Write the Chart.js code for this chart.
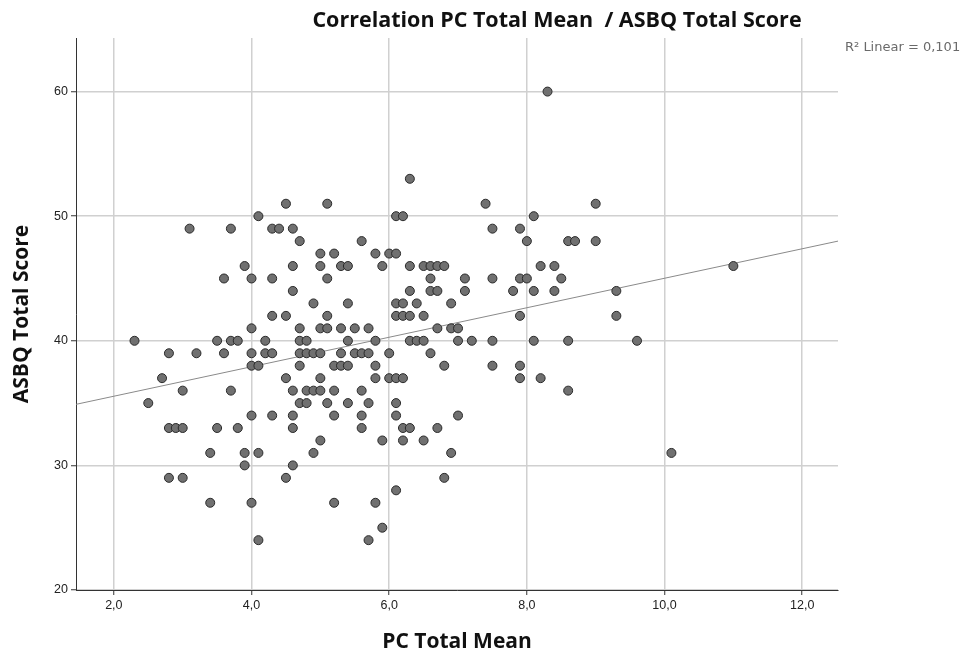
<!DOCTYPE html>
<html>
<head>
<meta charset="utf-8">
<script src="https://cdn.jsdelivr.net/npm/chart.js@4.4.1/dist/chart.umd.min.js"></script>
<style>
    html, body { margin: 0; padding: 0; background: #ffffff; }
    #wrap { width: 973px; height: 655px; position: relative; }
</style>
</head>
<body>
<div id="wrap"><canvas id="myChart"></canvas></div>
<script>
// ค่า PC Total Mean (แกน x) กับ ASBQ Total Score (แกน y) ของแต่ละคน
const pcMean = [
    8.3,
    6.3,
    4.5, 5.1, 7.4, 9.0,
    4.1, 6.1, 6.2, 8.1,
    3.1, 3.7, 4.3, 4.4, 4.6, 7.5, 7.9,
    4.7, 5.6, 8.0, 8.6, 8.7, 9.0,
    5.0, 5.2, 5.8, 6.0, 6.1,
    3.9, 4.6, 5.0, 5.3, 5.4, 5.9, 6.3, 6.5, 6.6, 6.7, 6.8, 8.2, 8.4, 11.0,
    3.6, 4.0, 4.3, 5.1, 6.6, 7.1, 7.5, 7.9, 8.0, 8.5,
    4.6, 6.3, 6.6, 6.7, 7.1, 7.8, 8.1, 8.4, 9.3,
    4.9, 5.4, 6.1, 6.2, 6.4, 6.9,
    4.3, 4.5, 5.1, 6.1, 6.2, 6.3, 6.5, 7.9, 9.3,
    4.0, 4.7, 5.0, 5.1, 5.3, 5.5, 5.7, 6.7, 6.9, 7.0,
    2.3, 3.5, 3.7, 3.8, 4.2, 4.7, 4.8, 5.4, 5.8, 6.3, 6.4, 6.5, 7.0, 7.2, 7.5, 8.1, 8.6, 9.6,
    2.8, 3.2, 3.6, 4.0, 4.2, 4.3, 4.7, 4.8, 4.9, 5.0, 5.3, 5.5, 5.6, 5.7, 6.0, 6.6,
    4.0, 4.1, 4.7, 5.2, 5.3, 5.4, 5.8, 6.8, 7.5, 7.9,
    2.7, 4.5, 5.0, 5.8, 6.0, 6.1, 6.2, 7.9, 8.2,
    3.0, 3.7, 4.6, 4.8, 4.9, 5.0, 5.2, 5.6, 8.6,
    2.5, 4.7, 4.8, 5.1, 5.4, 5.7, 6.1,
    4.0, 4.3, 4.6, 5.2, 5.6, 6.1, 7.0,
    2.8, 2.9, 3.0, 3.5, 3.8, 4.6, 5.6, 6.2, 6.3, 6.7,
    5.0, 5.9, 6.2, 6.5,
    3.4, 3.9, 4.1, 4.9, 6.9, 10.1,
    3.9, 4.6,
    2.8, 3.0, 4.5, 6.8,
    6.1,
    3.4, 4.0, 5.2, 5.8,
    5.9,
    4.1, 5.7
];
const asbqScore = [
    60,
    53,
    51, 51, 51, 51,
    50, 50, 50, 50,
    49, 49, 49, 49, 49, 49, 49,
    48, 48, 48, 48, 48, 48,
    47, 47, 47, 47, 47,
    46, 46, 46, 46, 46, 46, 46, 46, 46, 46, 46, 46, 46, 46,
    45, 45, 45, 45, 45, 45, 45, 45, 45, 45,
    44, 44, 44, 44, 44, 44, 44, 44, 44,
    43, 43, 43, 43, 43, 43,
    42, 42, 42, 42, 42, 42, 42, 42, 42,
    41, 41, 41, 41, 41, 41, 41, 41, 41, 41,
    40, 40, 40, 40, 40, 40, 40, 40, 40, 40, 40, 40, 40, 40, 40, 40, 40, 40,
    39, 39, 39, 39, 39, 39, 39, 39, 39, 39, 39, 39, 39, 39, 39, 39,
    38, 38, 38, 38, 38, 38, 38, 38, 38, 38,
    37, 37, 37, 37, 37, 37, 37, 37, 37,
    36, 36, 36, 36, 36, 36, 36, 36, 36,
    35, 35, 35, 35, 35, 35, 35,
    34, 34, 34, 34, 34, 34, 34,
    33, 33, 33, 33, 33, 33, 33, 33, 33, 33,
    32, 32, 32, 32,
    31, 31, 31, 31, 31, 31,
    30, 30,
    29, 29, 29, 29,
    28,
    27, 27, 27, 27,
    25,
    24, 24
];

// เส้น fit linear อ่านจากภาพ (ปลายซ้าย / ปลายขวา)
const fitX = [1.45, 12.52];
const fitY = [34.9, 48.0];

// ช่วงแกนและ tick
const xMin = 1.45, xMax = 12.52, xStep = 2;
const yMin = 20, yMax = 64.3, yStep = 10;

const chartTitle = "Correlation PC Total Mean  / ASBQ Total Score";
const xTitle = "PC Total Mean";
const yTitle = "ASBQ Total Score";
const fitLabel = "R\u00B2 Linear = 0,101";

let points = [];
for (let i = 0; i < pcMean.length; i++) {
    points.push({ x: pcMean[i], y: asbqScore[i] });
}
let fitPoints = [];
for (let i = 0; i < fitX.length; i++) {
    fitPoints.push({ x: fitX[i], y: fitY[i] });
}

// วาดหัวเรื่องกับข้อความ R² เอง เพราะตำแหน่งไม่ได้อยู่กลางกราฟ
const textPlugin = {
    id: "textPlugin",
    afterDraw(chart) {
        const ctx = chart.ctx;
        ctx.save();
        ctx.fillStyle = "#111111";
        ctx.font = "bold 21.5px 'Open Sans'";
        ctx.textAlign = "center";
        ctx.textBaseline = "middle";
        ctx.fillText(chartTitle, 557, 21);
        ctx.fillStyle = "#6a6a6a";
        ctx.font = "13px 'DejaVu Sans'";
        ctx.textAlign = "left";
        ctx.fillText(fitLabel, 845, 48);
        ctx.restore();
    }
};

const ctx = document.getElementById("myChart");
new Chart(ctx, {
    type: "scatter",
    data: {
        datasets: [{
            label: "ASBQ",
            data: points,
            backgroundColor: "#707070",
            borderColor: "#2a2a2a",
            borderWidth: 1,
            pointRadius: 4.5,
        },
        {
            label: "Fit",
            type: "line",
            data: fitPoints,
            borderColor: "#8a8a8a",
            borderWidth: 1,
            pointRadius: 0,
            fill: false,
        }]
    },
    options: {
        responsive: true,
        maintainAspectRatio: false,
        devicePixelRatio: 1,
        animation: false,
        layout: {
            padding: { left: 0, right: 135, top: 38, bottom: 0 }
        },
        scales: {
            x: {
                type: "linear",
                min: xMin,
                max: xMax,
                afterFit: function (scale) { scale.height = 65; },
                ticks: {
                    stepSize: xStep,
                    includeBounds: false,
                    color: "#222222",
                    padding: 3,
                    font: { family: "'Liberation Sans'", size: 12.5 },
                    callback: function (v) { return v.toFixed(1).replace(".", ","); }
                },
                grid: {
                    color: "#d0d0d0",
                    lineWidth: 1.5,
                    tickColor: "#333333",
                    tickLength: 5,
                    tickWidth: 1
                },
                border: { color: "#333333", width: 1 },
                title: {
                    display: true,
                    text: xTitle,
                    color: "#111111",
                    padding: { top: 0, bottom: 0 },
                    font: { family: "'Open Sans'", size: 21, weight: "bold" }
                }
            },
            y: {
                type: "linear",
                min: yMin,
                max: yMax,
                afterFit: function (scale) { scale.width = 76; },
                ticks: {
                    stepSize: yStep,
                    includeBounds: false,
                    color: "#222222",
                    padding: 3,
                    font: { family: "'Liberation Sans'", size: 12.5 }
                },
                grid: {
                    color: "#d0d0d0",
                    lineWidth: 1.5,
                    tickColor: "#333333",
                    tickLength: 5,
                    tickWidth: 1
                },
                border: { color: "#333333", width: 1 },
                title: {
                    display: true,
                    text: yTitle,
                    color: "#111111",
                    padding: { top: 9, bottom: 0 },
                    font: { family: "'Open Sans'", size: 21, weight: "bold" }
                }
            }
        },
        plugins: {
            legend: { display: false },
            tooltip: { enabled: false },
            title: { display: false }
        }
    },
    plugins: [textPlugin]
});
</script>
</body>
</html>
